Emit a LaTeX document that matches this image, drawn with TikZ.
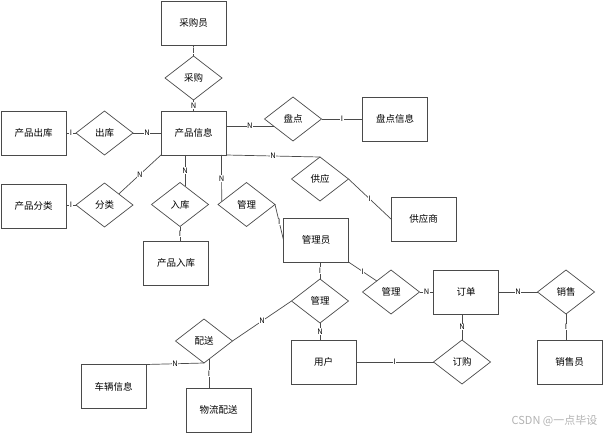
\documentclass[tikz,border=0pt]{standalone}
\usepackage{fontspec}
\usepackage{xcolor}
\setmainfont{Noto Sans CJK SC}
\usetikzlibrary{shapes.geometric}
\definecolor{linegray}{HTML}{4A4A4A}
\tikzset{
  entity/.style={draw=linegray,line width=0.9pt,minimum width=65pt,minimum height=44pt,inner sep=0pt,outer sep=0pt,font=\fontsize{9.5}{10}\selectfont},
  relation/.style={draw=linegray,line width=0.7pt,diamond,aspect=1.3,minimum width=57pt,minimum height=44pt,inner sep=0pt,outer sep=0pt,font=\fontsize{9.5}{10}\selectfont},
  link/.style={draw=linegray,line width=0.7pt},
  card/.style={fill=white,inner sep=0.5pt,font=\fontsize{7.5}{8}\selectfont}
}
\begin{document}
\begin{tikzpicture}[x=1pt,y=-1pt]
  \useasboundingbox (0,0) rectangle (605,433);
  % entities
  \foreach \n/\x/\y/\t in {buyer/193.5/23/采购员,prod/193.5/133/产品信息,prodout/33.5/133/产品出库,
    prodcat/33.5/206/产品分类,prodin/176/263/产品入库,truck/113.5/386.5/车辆信息,
    logi/218.5/410/物流配送,stockinfo/395/119/盘点信息,supplier/423.5/219/供应商,
    admin/316/240/管理员,order/466/292/订单,user/323.5/362/用户,seller/569.5/362/销售员}
    \node[entity] (\n) at (\x,\y) {\t};
  % relations
  \foreach \n/\x/\y/\t in {rbuy/193.5/78/采购,rout/104.5/133/出库,rcat/104.5/205/分类,rin/180/204.5/入库,
    rmanage/246.5/204.5/管理,rstock/293/119/盘点,rsupply/320/179/供应,rorderadm/391/292/管理,
    ruseradm/320/301/管理,rship/204/341/配送,rbook/462/362/订购,rsell/566/292/销售}
    \node[relation] (\n) at (\x,\y) {\t};
  % connectors
  \draw[link] (buyer.south) -- node[card] {I} (rbuy.north);
  \draw[link] (rbuy.south) -- node[card] {N} (prod.north);
  \draw[link] (prodout.east) -- node[card] {I} (rout.west);
  \draw[link] (rout.east) -- node[card] {N} (prod.west);
  \draw[link] (prodcat.east |- rcat.west) -- node[card] {I} (rcat.west);
  \draw[link] (rcat.north east) -- node[card] {N} (prod.south west);
  \draw[link] ([xshift=-8.5pt]prod.south) -- node[card] {N} ([xshift=5pt,yshift=-3.9pt]rin.north);
  \draw[link] (rin.south) -- node[card] {I} (rin.south |- prodin.north);
  \draw[link] ([xshift=28pt]prod.south) -- node[card] {N} ([xshift=-24.8pt,yshift=2.9pt]rmanage.center);
  \draw[link] (rmanage.east) -- node[card] {I} (admin.west);
  \draw[link] ([yshift=7pt]prod.east) -- node[card] {N} ([xshift=-19.4pt,yshift=-7pt]rstock.center);
  \draw[link] (rstock.east) -- node[card] {I} (stockinfo.west);
  \draw[link] (prod.south east) -- node[card] {N} (rsupply.north);
  \draw[link] (rsupply.east) -- node[card] {I} (supplier.west);
  \draw[link] (admin.south east) -- node[card] {I} (rorderadm.north west);
  \draw[link] (admin.south -| ruseradm.north) -- node[card] {I} (ruseradm.north);
  \draw[link] (rorderadm.east) -- node[card] {N} (order.west);
  \draw[link] (order.east) -- node[card] {N} (rsell.west);
  \draw[link] (order.south -| rbook.north) -- node[card] {N} (rbook.north);
  \draw[link] (rsell.south) -- node[card] {I} (rsell.south |- seller.north);
  \draw[link] (ruseradm.south) -- node[card] {N} (ruseradm.south |- user.north);
  \draw[link] (user.east) -- node[card] {I} (rbook.west);
  \draw[link] (ruseradm.west) -- node[card] {N} (rship.east);
  \draw[link] (rship.south) -- node[card] {N} (truck.north east);
  \draw[link] ([xshift=5pt,yshift=3.9pt]rship.south) -- node[card] {I} ([xshift=-9.5pt]logi.north);
  % watermark
  \node[text=black!30,font=\fontsize{11}{12}\selectfont,inner sep=0pt] (mark) at (554.5,421) {CSDN @一点毕设};
\end{tikzpicture}
\end{document}
